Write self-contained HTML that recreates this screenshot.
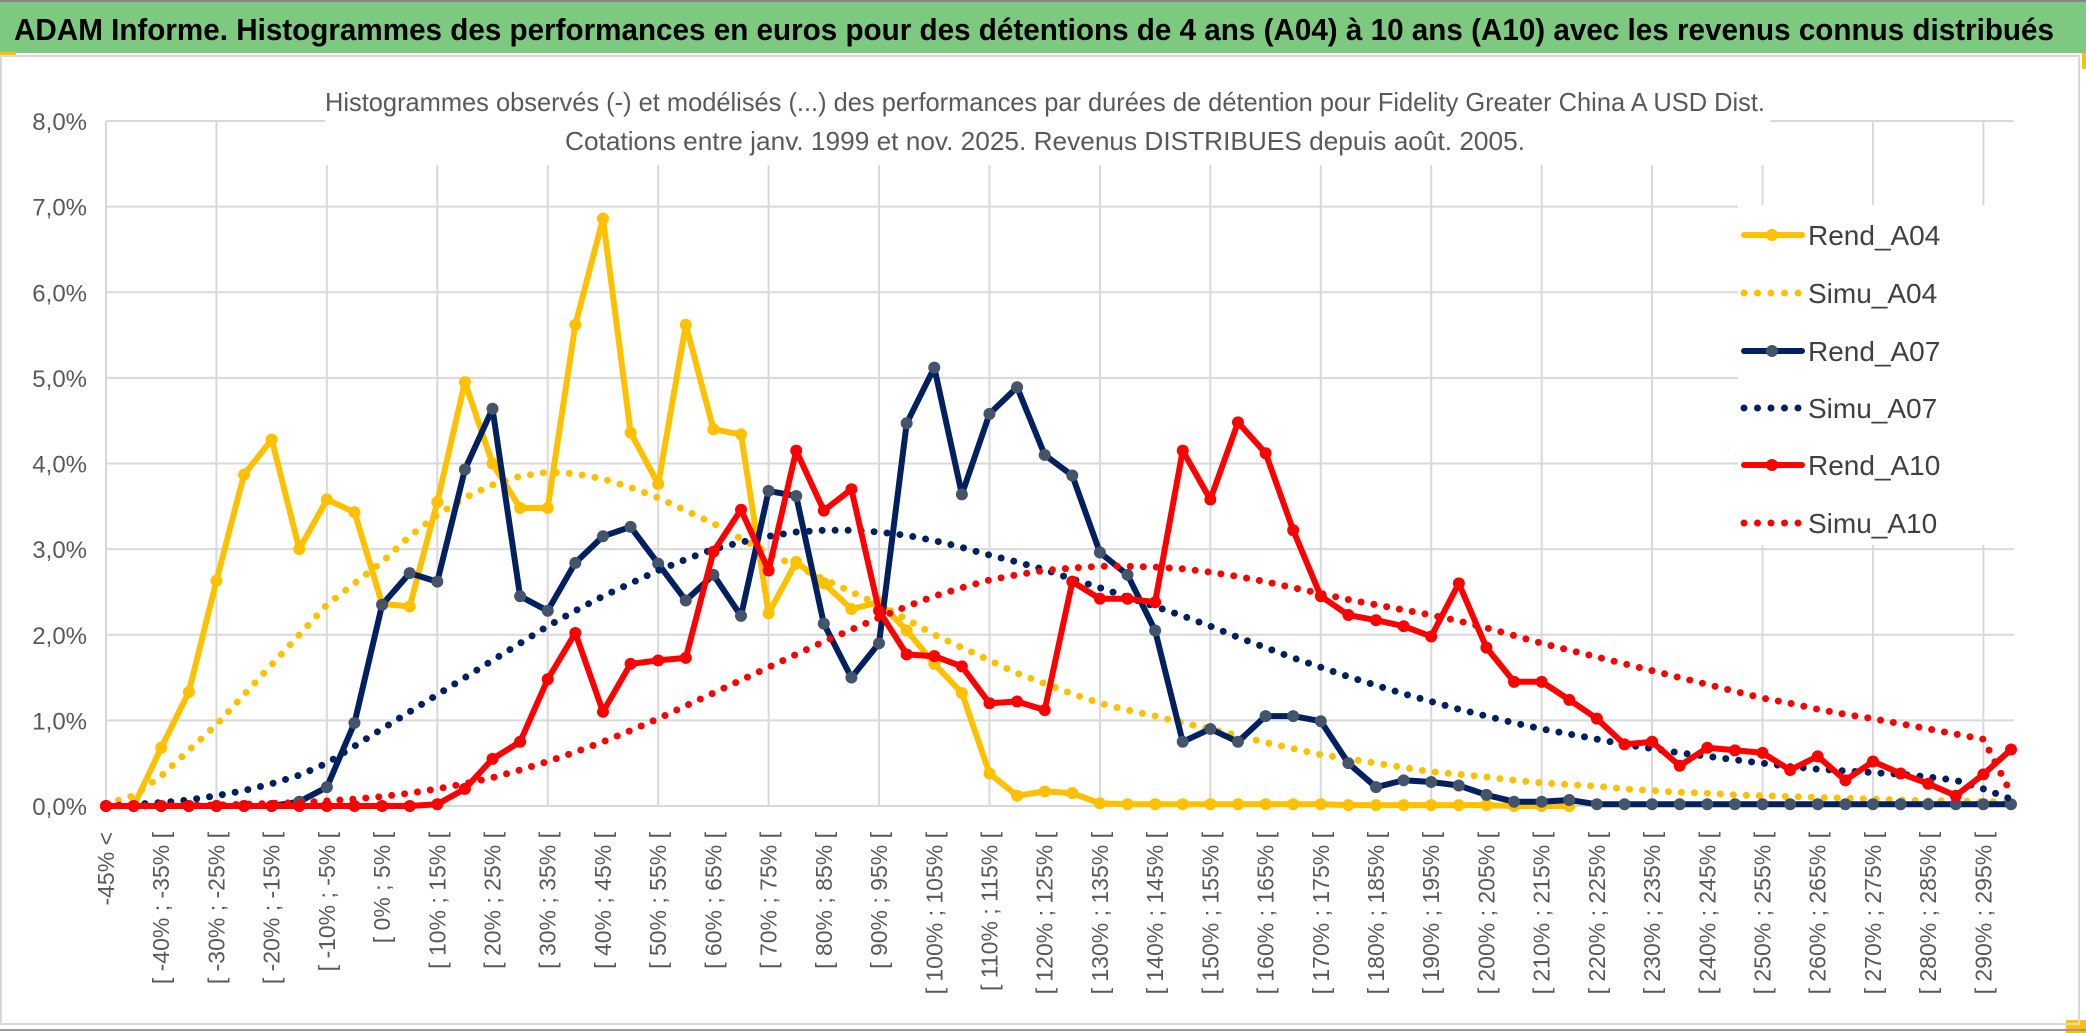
<!DOCTYPE html>
<html><head><meta charset="utf-8">
<style>
html,body{margin:0;padding:0;background:#fff;}
svg{display:block;font-family:"Liberation Sans",sans-serif;}
</style></head>
<body>
<svg id="chart" width="2086" height="1033" viewBox="0 0 2086 1033" xmlns="http://www.w3.org/2000/svg">
<rect x="0" y="0" width="2086" height="1033" fill="#fff"/>
<rect x="0" y="2" width="2086" height="51" fill="#7DC97F"/>
<line x1="0" y1="1" x2="2086" y2="1" stroke="#888" stroke-width="2"/>
<text x="14" y="40" font-size="31" font-weight="bold" fill="#000" textLength="2040" lengthAdjust="spacingAndGlyphs">ADAM Informe. Histogrammes des performances en euros pour des détentions de 4 ans (A04) à 10 ans (A10) avec les revenus connus distribués</text>
<rect x="0" y="52" width="16" height="3" fill="#FFC000"/>
<rect x="2082" y="53" width="4" height="16" fill="#FFC000"/>
<rect x="2066" y="1020" width="20" height="13" fill="#FFC000"/>
<rect x="1" y="56" width="2078" height="968" fill="none" stroke="#D9D9D9" stroke-width="2"/>
<line x1="0" y1="1030" x2="2086" y2="1030" stroke="#999" stroke-width="2"/>
<g id="grid"></g>
<rect x="325" y="70" width="1445" height="95" fill="#fff"/>
<rect x="1738" y="205" width="276" height="340" fill="#fff"/>
<text x="1045" y="111" font-size="26" fill="#595959" text-anchor="middle" textLength="1440" lengthAdjust="spacingAndGlyphs">Histogrammes observés (-) et modélisés (...) des performances par durées de détention pour Fidelity Greater China A USD Dist.</text>
<text x="1045" y="150" font-size="26" fill="#595959" text-anchor="middle" textLength="960" lengthAdjust="spacingAndGlyphs">Cotations entre janv. 1999 et nov. 2025. Revenus DISTRIBUES depuis août. 2005.</text>
<g id="yaxis"></g>
<g id="xaxis"></g>
<g id="series"></g>
<g id="legend"></g>
</svg>
<script>
const categoryLabels = ["-45% <"];
for (let v = -45; v < 300; v += 5) categoryLabels.push("[ " + v + "% ; " + (v + 5) + "% [");
const yTicks = [0,1,2,3,4,5,6,7,8];
const rendA04 = [0,0,0.68,1.33,2.63,3.87,4.28,3.0,3.58,3.43,2.36,2.33,3.55,4.95,4.0,3.48,3.48,5.62,6.86,4.36,3.76,5.62,4.4,4.34,2.25,2.85,2.6,2.3,2.38,2.05,1.66,1.32,0.38,0.12,0.17,0.15,0.03,0.02,0.02,0.02,0.02,0.02,0.02,0.02,0.02,0.01,0.01,0.01,0.01,0.01,0.01,0,0,0,null,null,null,null,null,null,null,null,null,null,null,null,null,null,null,null];
const simuA04 = [0.02,0.12,0.35,0.65,0.95,1.3,1.65,2.0,2.35,2.6,2.85,3.15,3.4,3.6,3.75,3.85,3.9,3.88,3.82,3.72,3.6,3.45,3.3,3.12,2.95,2.8,2.65,2.5,2.35,2.18,2.0,1.85,1.7,1.55,1.43,1.31,1.2,1.12,1.05,0.97,0.9,0.82,0.74,0.67,0.6,0.55,0.5,0.45,0.4,0.37,0.34,0.3,0.27,0.25,0.23,0.2,0.18,0.16,0.15,0.13,0.12,0.11,0.1,0.09,0.08,0.07,0.06,0.06,0.05,0.05];
const rendA07 = [0,0,0,0,0,0,0,0.05,0.22,0.97,2.35,2.72,2.62,3.93,4.64,2.45,2.28,2.84,3.15,3.26,2.83,2.4,2.7,2.22,3.68,3.62,2.13,1.5,1.9,4.47,5.12,3.64,4.58,4.89,4.1,3.86,2.96,2.7,2.05,0.75,0.9,0.75,1.05,1.05,0.99,0.5,0.22,0.3,0.28,0.24,0.13,0.05,0.05,0.07,0.02,0.02,0.02,0.02,0.02,0.02,0.02,0.02,0.02,0.02,0.02,0.02,0.02,0.02,0.02,0.02];
const simuA07 = [0,0.02,0.04,0.07,0.12,0.18,0.26,0.36,0.5,0.7,0.9,1.1,1.3,1.5,1.7,1.9,2.1,2.28,2.45,2.6,2.75,2.88,3.0,3.08,3.15,3.2,3.22,3.22,3.2,3.16,3.1,3.02,2.93,2.85,2.76,2.65,2.55,2.44,2.33,2.22,2.1,1.97,1.85,1.73,1.62,1.51,1.41,1.31,1.22,1.13,1.05,0.97,0.9,0.84,0.78,0.72,0.67,0.62,0.58,0.54,0.5,0.46,0.43,0.41,0.39,0.37,0.34,0.3,0.2,0.08];
const rendA10 = [0,0,0,0,0,0,0,0,0,0,0,0,0.02,0.2,0.55,0.75,1.48,2.02,1.1,1.66,1.7,1.73,2.97,3.46,2.75,4.15,3.45,3.7,2.28,1.77,1.75,1.63,1.2,1.22,1.12,2.62,2.42,2.42,2.38,4.15,3.58,4.48,4.12,3.22,2.45,2.23,2.17,2.1,1.98,2.6,1.85,1.45,1.45,1.24,1.02,0.72,0.75,0.47,0.68,0.65,0.62,0.42,0.58,0.3,0.52,0.38,0.26,0.12,0.37,0.66];
const simuA10 = [0,0,0,0.01,0.01,0.02,0.03,0.04,0.06,0.08,0.11,0.15,0.2,0.26,0.33,0.42,0.52,0.63,0.75,0.88,1.02,1.17,1.32,1.47,1.62,1.77,1.92,2.06,2.2,2.33,2.45,2.55,2.64,2.7,2.75,2.78,2.8,2.8,2.79,2.77,2.73,2.68,2.62,2.55,2.48,2.41,2.35,2.29,2.23,2.16,2.08,1.99,1.9,1.82,1.74,1.66,1.58,1.5,1.42,1.34,1.26,1.2,1.13,1.07,1.02,0.96,0.9,0.84,0.78,0.15];

const NS = "http://www.w3.org/2000/svg";
const X0 = 106, X1 = 2011, Y0 = 806, Y8 = 121;
const n = categoryLabels.length;
function xPos(i){ return X0 + (X1 - X0) * i / (n - 1); }
function yPos(v){ return Y0 - (Y0 - Y8) * v / 8; }
function mk(tag, attrs, parent){ const e = document.createElementNS(NS, tag); for (const k in attrs) e.setAttribute(k, attrs[k]); parent.appendChild(e); return e; }

const grid = document.getElementById("grid");
yTicks.forEach(t => {
  const l = mk("line", {x1: X0, x2: X1 + 3, y1: yPos(t), y2: yPos(t), stroke: "#D9D9D9", "stroke-width": 2}, grid);
  
  
});
for (let i = 0; i < n; i += 4) {
  const l = mk("line", {x1: xPos(i), x2: xPos(i), y1: Y8, y2: Y0, stroke: "#D9D9D9", "stroke-width": 2}, grid);
  
  
}
const yaxis = document.getElementById("yaxis");
yTicks.forEach(t => {
  const tx = mk("text", {x: 87, y: yPos(t) + 9, "font-size": 24, fill: "#595959", "text-anchor": "end"}, yaxis);
  tx.textContent = t.toFixed(1).replace(".", ",") + "%";
  
  
});
const xaxis = document.getElementById("xaxis");
for (let i = 0; i < n; i += 2) {
  const x = xPos(i) + 8;
  const tx = mk("text", {x: x, y: 832, "font-size": 23, fill: "#595959", "text-anchor": "end", transform: "rotate(-90 " + x + " 832)"}, xaxis);
  tx.textContent = categoryLabels[i];
  
  
}

const seriesDefs = [
  {name: "Rend_A04", data: rendA04, color: "#FFC000", marker: "#FFC000", solid: true},
  {name: "Simu_A04", data: simuA04, color: "#FFC000", solid: false},
  {name: "Rend_A07", data: rendA07, color: "#002060", marker: "#44546A", solid: true},
  {name: "Simu_A07", data: simuA07, color: "#002060", solid: false},
  {name: "Rend_A10", data: rendA10, color: "#FF0000", marker: "#FF0000", solid: true},
  {name: "Simu_A10", data: simuA10, color: "#FF0000", solid: false}
];
const sg = document.getElementById("series");
seriesDefs.forEach(s => {
  const g = mk("g", {}, sg);
  
  
  let d = "", pen = false;
  s.data.forEach((v, i) => {
    if (v === null) { pen = false; return; }
    d += (pen ? "L" : "M") + xPos(i).toFixed(1) + " " + yPos(v).toFixed(1);
    pen = true;
  });
  const p = mk("path", {d: d, fill: "none", stroke: s.color, "stroke-width": s.solid ? 6 : 7, "stroke-linecap": "round", "stroke-linejoin": "round"}, g);
  if (!s.solid) p.setAttribute("stroke-dasharray", "0 13");
  
  
  if (s.solid) {
    s.data.forEach((v, i) => {
      if (v === null) return;
      const c = mk("circle", {cx: xPos(i), cy: yPos(v), r: 6, fill: s.marker}, g);
      
      
    });
  }
});

const lg = document.getElementById("legend");
const legendY = [235, 293, 351, 408, 465, 523];
seriesDefs.forEach((s, k) => {
  const y = legendY[k];
  const g = mk("g", {}, lg);
  
  
  if (s.solid) {
    mk("line", {x1: 1744, x2: 1802, y1: y, y2: y, stroke: s.color, "stroke-width": 6, "stroke-linecap": "round"}, g);
    mk("circle", {cx: 1772, cy: y, r: 6, fill: s.marker}, g);
  } else {
    mk("line", {x1: 1744, x2: 1802, y1: y, y2: y, stroke: s.color, "stroke-width": 7, "stroke-linecap": "round", "stroke-dasharray": "0 13.5"}, g);
  }
  const t = mk("text", {x: 1808, y: y + 10, "font-size": 28, fill: "#404040"}, g);
  t.textContent = s.name;
});
</script>
</body></html>
